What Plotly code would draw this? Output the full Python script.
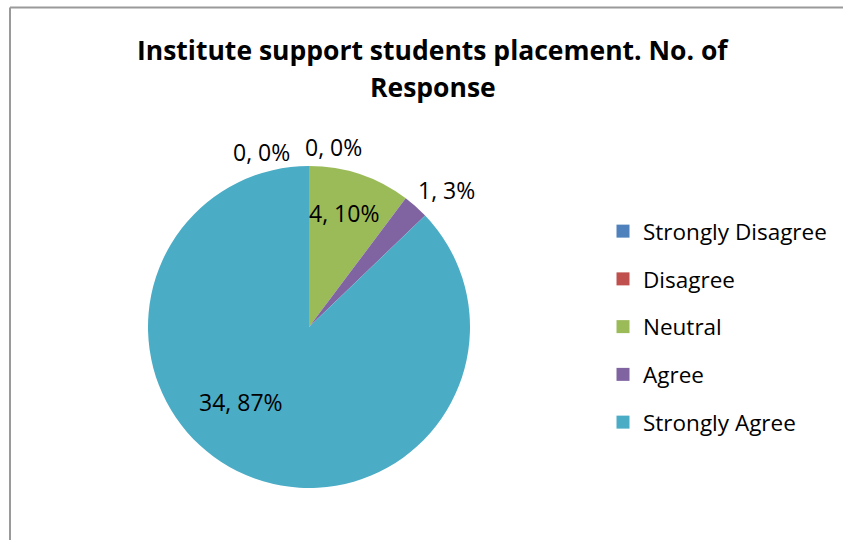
import plotly.graph_objects as go

# ---- data ----
categories = ["Strongly Disagree", "Disagree", "Neutral", "Agree", "Strongly Agree"]
responses = [0, 0, 4, 1, 34]
colors = ["#4F81BD", "#C0504D", "#9BBB59", "#8064A2", "#4BACC6"]
title_lines = ["Institute support students placement. No. of", "Response"]

W, H = 843, 540
FONT = "Open Sans"

total = sum(responses)
labels_txt = [f"{v}, {round(v / total * 100)}%" for v in responses]

def px(x):
    return x / W

def py(y):
    return 1 - y / H

fig = go.Figure()

fig.add_trace(go.Pie(
    labels=categories,
    values=responses,
    sort=False,
    direction="clockwise",
    rotation=0,
    marker=dict(colors=colors, line=dict(width=0)),
    textinfo="none",
    hoverinfo="label+value+percent",
    showlegend=False,
    domain=dict(x=[px(148), px(470)], y=[py(489), py(165)]),
))

# legend entries (one per category, each in its own group so spacing can be set)
for cat, col in zip(categories, colors):
    fig.add_trace(go.Scatter(
        x=[None], y=[None], mode="markers", name=cat, legendgroup=cat,
        marker=dict(symbol="square", size=13, color=col),
        showlegend=True, hoverinfo="skip",
    ))

# data label positions (layout only)
label_pos = [(261, 152), (333, 147), (344, 213), (447, 190), (241, 402)]
annotations = []
for txt, (x, y) in zip(labels_txt, label_pos):
    annotations.append(dict(
        text=txt, x=px(x), y=py(y), xref="paper", yref="paper",
        xanchor="center", yanchor="middle", showarrow=False,
        font=dict(family=FONT, size=23, color="#000000"),
    ))

title_y = [50, 87]
for t, y in zip(title_lines, title_y):
    annotations.append(dict(
        text=f"<b>{t}</b>", x=px(433), y=py(y), xref="paper", yref="paper",
        xanchor="center", yanchor="middle", showarrow=False,
        font=dict(family=FONT, size=26.5, color="#000000"),
    ))

fig.update_layout(
    width=W, height=H,
    margin=dict(l=0, r=0, t=0, b=0),
    paper_bgcolor="white", plot_bgcolor="white",
    xaxis=dict(visible=False, domain=[0.9, 0.91]),
    yaxis=dict(visible=False, domain=[0.9, 0.91]),
    legend=dict(
        x=px(603), y=py(210), xanchor="left", yanchor="top",
        font=dict(family=FONT, size=22.5, color="#000000"),
        tracegroupgap=15.5, itemwidth=30, bgcolor="rgba(0,0,0,0)",
    ),
    annotations=annotations,
    shapes=[
        dict(type="line", xref="paper", yref="paper", x0=px(10), x1=1.0, y0=py(7.5), y1=py(7.5),
             line=dict(color="#9a9a9a", width=2)),
        dict(type="line", xref="paper", yref="paper", x0=px(10), x1=px(10), y0=py(7.5), y1=0.0,
             line=dict(color="#9a9a9a", width=2)),
    ],
)

fig.write_html("out.html", config={"displayModeBar": False},
               post_script="document.body.style.margin='0';")
